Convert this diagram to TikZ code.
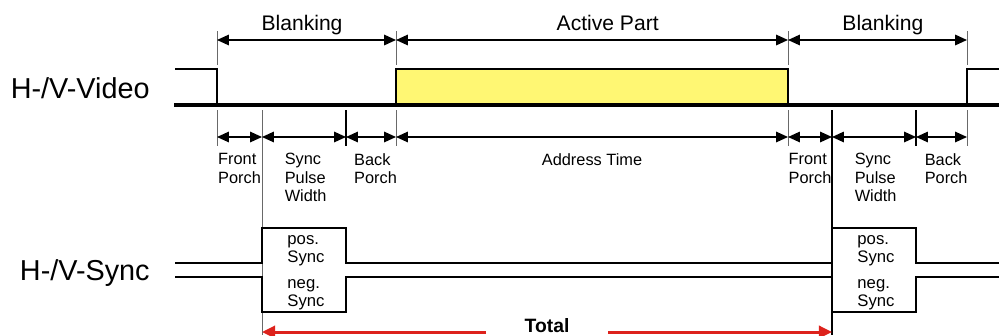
\documentclass[tikz,border=0pt]{standalone}
\usepackage{fontspec}
\setmainfont{Liberation Sans}
\usetikzlibrary{arrows.meta}

\definecolor{activefill}{RGB}{255,247,115}
\definecolor{totalred}{RGB}{221,34,28}
\definecolor{tickgray}{RGB}{105,105,105}

\begin{document}
\begin{tikzpicture}[x=0.02cm,y=-0.02cm,
    >={Triangle[length=6.8pt,width=6pt]},
    signal/.style={line width=1.1pt},
    baseline/.style={line width=1.9pt},
    tick/.style={tickgray,line width=0.5pt},
    bigtext/.style={font=\fontsize{16.4}{19}\selectfont,inner sep=0pt},
    smalltext/.style={font=\fontsize{9.3}{10.5}\selectfont,align=left,inner sep=0pt}]
  \useasboundingbox (0,0) rectangle (999,335);

  % time marks of the two rows of dimension arrows
  \coordinate (t0) at (217,40);
  \coordinate (t1) at (396,40);
  \coordinate (t2) at (788,40);
  \coordinate (t3) at (967,40);
  \coordinate (f0) at (217,137);
  \coordinate (f1) at (262,137);
  \coordinate (f2) at (346,137);
  \coordinate (f3) at (396,137);
  \coordinate (f4) at (788,137);
  \coordinate (f5) at (832,137);
  \coordinate (f6) at (916,137);
  \coordinate (f7) at (967,137);

  % signal names
  \node (video) [bigtext,anchor=base east] at (150,98) {H-/V-Video};
  \node (sync) [bigtext,anchor=base east] at (150,280) {H-/V-Sync};

  % guide lines
  \begin{scope}[tick]
    \draw (217,31) -- (217,65);
    \draw (396,31) -- (396,65);
    \draw (788,31) -- (788,65);
    \draw (967,31) -- (967,65);
    \draw (217,110) -- (217,146);
    \draw (396,110) -- (396,146);
    \draw (788,110) -- (788,146);
    \draw (967,110) -- (967,146);
    \draw (262,110) -- (262,335);
  \end{scope}
  \begin{scope}[line width=0.6pt]
    \draw (346,110) -- (346,146);
    \draw (916,110) -- (916,146);
    \draw (832,110) -- (832,335);
  \end{scope}

  % video line
  \draw[signal,fill=activefill] (396,105) rectangle (788,69);
  \draw[signal] (175,69) -- (217,69) -- (217,105);
  \draw[signal] (967,105) -- (967,69) -- (999,69);
  \draw[baseline] (174,105) -- (999,105);

  % sync line, positive and negative
  \draw[signal] (175,263) -- (262,263) -- (262,228) -- (346,228) -- (346,263)
    -- (832,263) -- (832,228) -- (916,228) -- (916,263) -- (999,263);
  \draw[signal] (175,277) -- (262,277) -- (262,312) -- (346,312) -- (346,277)
    -- (832,277) -- (832,312) -- (916,312) -- (916,277) -- (999,277);
  \begin{scope}[every node/.style={font=\fontsize{9.5}{10}\selectfont,align=left,inner sep=0pt}]
    \node (pos1) at (306,251) {pos.\\Sync};
    \node (neg1) at (306,295) {neg.\\Sync};
    \node (pos2) at (876,251) {pos.\\Sync};
    \node (neg2) at (876,295) {neg.\\Sync};
  \end{scope}

  % blanking / active part
  \begin{scope}
    [every edge/.style={draw,line width=0.9pt,<->},
    every node/.style={anchor=base,yshift=5.4pt,font=\fontsize{12}{14}\selectfont}]
    \path (t0) edge node[pos=0.475] {Blanking} (t1);
    \path (t1) edge node[pos=0.54] {Active Part} (t2);
    \path (t2) edge node[pos=0.53] {Blanking} (t3);
  \end{scope}

  % porches and pulse widths
  \begin{scope}
    [every edge/.style={draw,line width=0.8pt,<->},
    every node/.style={smalltext,anchor=north,yshift=-9pt}]
    \path (f0) edge node {Front\\Porch} (f1);
    \path (f1) edge node[pos=0.52] {Sync\\Pulse\\Width} (f2);
    \path (f2) edge node[pos=0.59] {Back\\Porch} (f3);
    \path (f3) edge node {Address Time} (f4);
    \path (f4) edge node {Front\\Porch} (f5);
    \path (f5) edge node[pos=0.52] {Sync\\Pulse\\Width} (f6);
    \path (f6) edge node[pos=0.59] {Back\\Porch} (f7);
  \end{scope}

  % total period
  \coordinate (tl) at (262,332);
  \coordinate (tr) at (832,332);
  \coordinate (gl) at (486,332);
  \coordinate (gr) at (608,332);
  \node (total) [anchor=base,inner sep=0pt,font=\fontsize{11}{13}\selectfont\bfseries] at (547,332) {Total};
  \begin{scope}[totalred,line width=1.7pt,>={Triangle[length=7.5pt,width=7pt]}]
    \draw[->] (gl) -- (tl);
    \draw[->] (gr) -- (tr);
  \end{scope}
\end{tikzpicture}
\end{document}
